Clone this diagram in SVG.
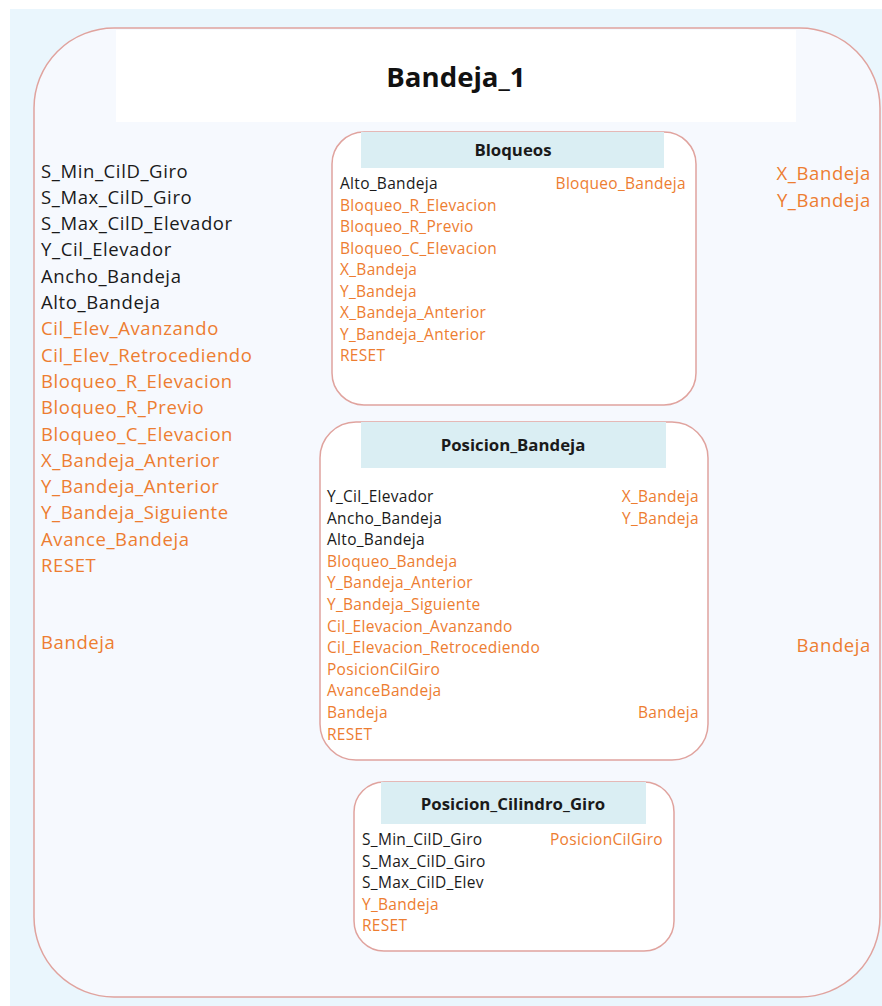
<svg xmlns="http://www.w3.org/2000/svg" width="882" height="1006" viewBox="0 0 882 1006">
  <style>
    text { font-family: "Open Sans", "Noto Sans", "Liberation Sans", sans-serif; }
    .big { font-size: 18.5px; letter-spacing: 0.6px; }
    .sm { font-size: 15.5px; letter-spacing: 0.3px; }
    .k { fill: #1a1a1a; }
    .o { fill: #ED7D31; }
    .end { text-anchor: end; }
    .head { font-size: 16.8px; font-weight: bold; fill: #1a1a1a; text-anchor: middle; }
    .box { fill: #ffffff; stroke: #E0A39E; stroke-width: 1.5; }
    .band { fill: #DAEEF3; }
  </style>

  <!-- page background -->
  <rect x="10" y="9" width="872" height="997" fill="#EAF6FD"/>

  <!-- outer block -->
  <g id="bandeja_1">
    <rect x="34" y="28" width="846" height="969" rx="80" ry="80" fill="#F6F9FE" stroke="#E0A39E" stroke-width="1.5"/>
    <rect x="116" y="30" width="680" height="92" fill="#ffffff"/>
    <text x="456" y="87" text-anchor="middle" font-size="27.6" font-weight="bold" fill="#111">Bandeja_1</text>

    <g class="big">
      <text x="41" y="177.5" class="k">S_Min_CilD_Giro</text>
      <text x="41" y="203.8" class="k">S_Max_CilD_Giro</text>
      <text x="41" y="230.1" class="k">S_Max_CilD_Elevador</text>
      <text x="41" y="256.4" class="k">Y_Cil_Elevador</text>
      <text x="41" y="282.7" class="k">Ancho_Bandeja</text>
      <text x="41" y="309" class="k">Alto_Bandeja</text>
      <text x="41" y="335.3" class="o">Cil_Elev_Avanzando</text>
      <text x="41" y="361.6" class="o">Cil_Elev_Retrocediendo</text>
      <text x="41" y="387.9" class="o">Bloqueo_R_Elevacion</text>
      <text x="41" y="414.2" class="o">Bloqueo_R_Previo</text>
      <text x="41" y="440.5" class="o">Bloqueo_C_Elevacion</text>
      <text x="41" y="466.8" class="o">X_Bandeja_Anterior</text>
      <text x="41" y="493.1" class="o">Y_Bandeja_Anterior</text>
      <text x="41" y="519.4" class="o">Y_Bandeja_Siguiente</text>
      <text x="41" y="545.7" class="o">Avance_Bandeja</text>
      <text x="41" y="572" class="o">RESET</text>
      <text x="41" y="649" class="o">Bandeja</text>

      <text x="871" y="180" class="o end">X_Bandeja</text>
      <text x="871" y="207" class="o end">Y_Bandeja</text>
      <text x="871" y="652" class="o end">Bandeja</text>
    </g>
  </g>

  <!-- Bloqueos -->
  <g id="bloqueos">
    <rect class="box" x="332" y="132" width="364" height="273" rx="32" ry="32"/>
    <rect class="band" x="361" y="132" width="303" height="36"/>
    <text class="head" x="513" y="156">Bloqueos</text>
    <g class="sm">
      <text x="340" y="189" class="k">Alto_Bandeja</text>
      <text x="340" y="210.5" class="o">Bloqueo_R_Elevacion</text>
      <text x="340" y="232" class="o">Bloqueo_R_Previo</text>
      <text x="340" y="253.5" class="o">Bloqueo_C_Elevacion</text>
      <text x="340" y="275" class="o">X_Bandeja</text>
      <text x="340" y="296.5" class="o">Y_Bandeja</text>
      <text x="340" y="318" class="o">X_Bandeja_Anterior</text>
      <text x="340" y="339.5" class="o">Y_Bandeja_Anterior</text>
      <text x="340" y="361" class="o">RESET</text>
      <text x="686" y="189" class="o end">Bloqueo_Bandeja</text>
    </g>
  </g>

  <!-- Posicion_Bandeja -->
  <g id="posicion_bandeja">
    <rect class="box" x="320" y="422" width="388" height="338" rx="36" ry="36"/>
    <rect class="band" x="361" y="422" width="305" height="46"/>
    <text class="head" x="513" y="451">Posicion_Bandeja</text>
    <g class="sm">
      <text x="327" y="502" class="k">Y_Cil_Elevador</text>
      <text x="327" y="523.6" class="k">Ancho_Bandeja</text>
      <text x="327" y="545.2" class="k">Alto_Bandeja</text>
      <text x="327" y="566.8" class="o">Bloqueo_Bandeja</text>
      <text x="327" y="588.4" class="o">Y_Bandeja_Anterior</text>
      <text x="327" y="610" class="o">Y_Bandeja_Siguiente</text>
      <text x="327" y="631.6" class="o">Cil_Elevacion_Avanzando</text>
      <text x="327" y="653.2" class="o">Cil_Elevacion_Retrocediendo</text>
      <text x="327" y="674.8" class="o">PosicionCilGiro</text>
      <text x="327" y="696.4" class="o">AvanceBandeja</text>
      <text x="327" y="718" class="o">Bandeja</text>
      <text x="327" y="739.6" class="o">RESET</text>
      <text x="699" y="502" class="o end">X_Bandeja</text>
      <text x="699" y="523.6" class="o end">Y_Bandeja</text>
      <text x="699" y="718" class="o end">Bandeja</text>
    </g>
  </g>

  <!-- Posicion_Cilindro_Giro -->
  <g id="posicion_cilindro_giro">
    <rect class="box" x="354" y="782" width="320" height="169" rx="30" ry="30"/>
    <rect class="band" x="381" y="782" width="265" height="42"/>
    <text class="head" x="513" y="810">Posicion_Cilindro_Giro</text>
    <g class="sm">
      <text x="362" y="845" class="k">S_Min_CilD_Giro</text>
      <text x="362" y="866.5" class="k">S_Max_CilD_Giro</text>
      <text x="362" y="888" class="k">S_Max_CilD_Elev</text>
      <text x="362" y="909.5" class="o">Y_Bandeja</text>
      <text x="362" y="931" class="o">RESET</text>
      <text x="663" y="845" class="o end">PosicionCilGiro</text>
    </g>
  </g>
</svg>
